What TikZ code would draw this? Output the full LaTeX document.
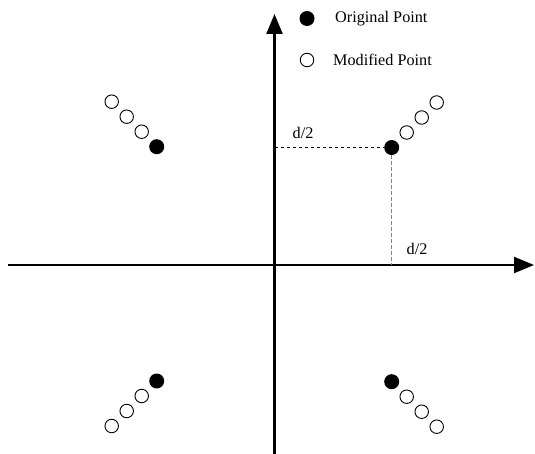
\documentclass[tikz,border=0pt]{standalone}
\usepackage{fontspec}
\setmainfont{Liberation Serif}
\usetikzlibrary{arrows.meta}
\begin{document}
\begin{tikzpicture}[x=1pt,y=-1pt,
  axis/.style={line width=2.2pt,-{Triangle[length=20pt,width=16pt]}},
  guide/.style={dashed,line width=0.8pt,dash pattern=on 3.5pt off 2.5pt},
  orig/.style={circle,fill=black,minimum size=15pt,inner sep=0pt},
  modp/.style={circle,draw=black,line width=0.9pt,fill=white,minimum size=13.5pt,inner sep=0pt},
  lbl/.style={font=\fontsize{16.2}{18}\selectfont,inner sep=0pt}]
\useasboundingbox (0,0) rectangle (535,454);
% axes
\coordinate (xs) at (8,265);
\coordinate (xe) at (534,265);
\coordinate (ys) at (274.5,454);
\coordinate (ye) at (274.5,14);
\draw[axis] (xs) -- (xe);
\draw[axis] (ys) -- (ye);
% points: upper right
\node[orig] (ur) at (391.7,147.5) {};
\node[modp] (ur1) at (406.7,132.5) {};
\node[modp] (ur2) at (421.7,117.5) {};
\node[modp] (ur3) at (436.7,102.5) {};
% upper left
\node[orig] (ul) at (156.7,146.7) {};
\node[modp] (ul1) at (141.7,131.7) {};
\node[modp] (ul2) at (126.7,116.7) {};
\node[modp] (ul3) at (111.7,101.7) {};
% lower left
\node[orig] (ll) at (156.7,381) {};
\node[modp] (ll1) at (141.7,396) {};
\node[modp] (ll2) at (126.7,411) {};
\node[modp] (ll3) at (111.7,426) {};
% lower right
\node[orig] (lr) at (391.7,381.7) {};
\node[modp] (lr1) at (406.7,396.7) {};
\node[modp] (lr2) at (421.7,411.7) {};
\node[modp] (lr3) at (436.7,426.7) {};
% guides
\coordinate (gy) at (274.5,147.5);
\coordinate (gx) at (391.7,265);
\draw[guide] (gy) -- (ur.west);
\draw[guide,gray] (ur.south) -- (gx);
\node[lbl] (d1) at (303,133) {d/2};
\node[lbl] (d2) at (417,249) {d/2};
% legend
\node[orig] (lo) at (307,18.5) {};
\node[modp] (lm) at (307,60) {};
\node[lbl,anchor=west] (lot) at (335,18.5) {Original Point};
\node[lbl,anchor=west] (lmt) at (333,60) {Modified Point};
\end{tikzpicture}
\end{document}
